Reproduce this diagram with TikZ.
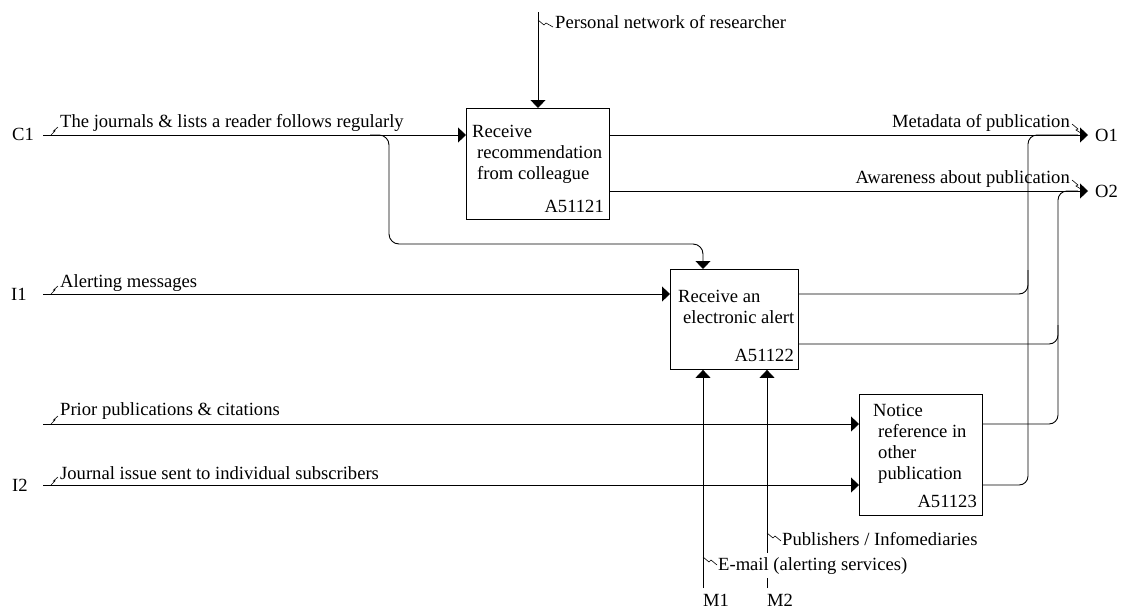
\documentclass[tikz,border=0pt]{standalone}
\usepackage{fontspec}
\setmainfont{Liberation Serif}
\usetikzlibrary{arrows.meta}
\begin{document}
\begin{tikzpicture}[x=1pt,y=-1pt,
  font=\fontsize{18.6}{21}\selectfont,
  every node/.style={inner sep=0pt},
  lbl/.style={anchor=base west},
  lble/.style={anchor=base east},
  flow/.style={line width=0.9pt,-{Triangle[length=8pt,width=15pt]}},
  plain/.style={line width=0.9pt},
  squig/.style={line width=0.6pt},
  actbox/.style={draw,line width=0.9pt,anchor=north west},
  boxtxt/.style={anchor=north west,align=left}]
\useasboundingbox (0,0) rectangle (1127,611);
% boxes
\node[actbox,minimum width=143pt,minimum height=111pt] (b1) at (466,108) {};
\node[actbox,minimum width=128pt,minimum height=100pt] (b2) at (670,269) {};
\node[actbox,minimum width=123pt,minimum height=121pt] (b3) at (859,394) {};
\node[boxtxt] (t1) at (472,124.7) {Receive\\\hspace*{5pt}recommendation\\\hspace*{5pt}from colleague};
\node[lble] (n1) at (604,212) {A51121};
\node[boxtxt] (t2) at (678,289.7) {Receive an\\\hspace*{5pt}electronic alert};
\node[lble] (n2) at (794,361) {A51122};
\node[boxtxt] (t3) at (873,403.7) {Notice\\\hspace*{5pt}reference in\\\hspace*{5pt}other\\\hspace*{5pt}publication};
\node[lble] (n3) at (977,507) {A51123};
% ports
\coordinate (c1s) at (43,135);
\coordinate (i1s) at (43,294);
\coordinate (pps) at (43,424);
\coordinate (i2s) at (43,485);
\coordinate (o1t) at (1088,135);
\coordinate (o2t) at (1088,191);
\coordinate (pns) at (538,12);
\coordinate (m1s) at (703,588);
\coordinate (m2s) at (767,588);
\coordinate (brs) at (370,135);
% connectors
\draw[flow] (c1s) -- (b1.west |- c1s);
\draw[flow,rounded corners=10pt] (brs) -- (389,135) -- (389,244) -- (703,244) -- (b2.north -| m1s);
\draw[flow] (pns) -- (pns |- b1.north);
\draw[flow] (b1.east |- o1t) -- (o1t);
\draw[flow] (b1.east |- o2t) -- (o2t);
\draw[flow] (i1s) -- (b2.west |- i1s);
\draw[flow] (pps) -- (b3.west |- pps);
\draw[flow] (i2s) -- (b3.west |- i2s);
\draw[flow] (m1s) -- (m1s |- b2.south);
\draw[flow] (m2s) -- (m2s |- b2.south);
\draw[plain,rounded corners=9pt] (b2.east |- 0,294) -- (1028,294) -- (1028,270);
\draw[plain,rounded corners=9pt] (b2.east |- 0,344) -- (1058,344) -- (1058,325);
\draw[plain,rounded corners=9pt] (b3.east |- pps) -- (1058,424) -- (1058,191) -- (1078,191);
\draw[plain,rounded corners=9pt] (b3.east |- i2s) -- (1028,485) -- (1028,135) -- (1078,135);
% labels
\node[lbl] (c1l) at (12,140) {C1};
\node[lbl] (c1t) at (60,127) {The journals \& lists a reader follows regularly};
\draw[squig] (51,135) -- (55,131) -- (53.5,131) -- (58,127);
\node[lbl] (i1l) at (11,300) {I1};
\node[lbl] (i1t) at (60,287) {Alerting messages};
\draw[squig] (51,294) -- (55,290) -- (53.5,290) -- (58,286);
\node[lbl] (ppt) at (60,415) {Prior publications \& citations};
\draw[squig] (51,424) -- (55,420) -- (53.5,420) -- (58,416);
\node[lbl] (i2l) at (12,491) {I2};
\node[lbl] (i2t) at (60,479) {Journal issue sent to individual subscribers};
\draw[squig] (51,485) -- (55,481) -- (53.5,481) -- (58,477);
\node[lbl] (pnt) at (555,28) {Personal network of researcher};
\draw[squig] (538,20) -- (544,25) -- (546,23) -- (553,27);
\node[lble] (o1m) at (1070,127) {Metadata of publication};
\draw[squig] (1072,124) -- (1078,129) -- (1076,130) -- (1084,135);
\node[lble] (o2m) at (1070,183) {Awareness about publication};
\draw[squig] (1072,180) -- (1078,185) -- (1076,186) -- (1084,191);
\node[lbl] (o1l) at (1095,141) {O1};
\node[lbl] (o2l) at (1095,197) {O2};
\node[lbl] (m2t) at (782,545) {Publishers / Infomediaries};
\draw[squig] (767,533) -- (773,538) -- (775,536) -- (781,541);
\node[lbl,fill=white,inner ysep=4pt] (m1t) at (718,570) {E-mail (alerting services)};
\draw[squig] (703,557) -- (709,562) -- (711,560) -- (717,565);
\node[lbl] (m1l) at (703,606) {M1};
\node[lbl] (m2l) at (767,606) {M2};
\end{tikzpicture}
\end{document}
